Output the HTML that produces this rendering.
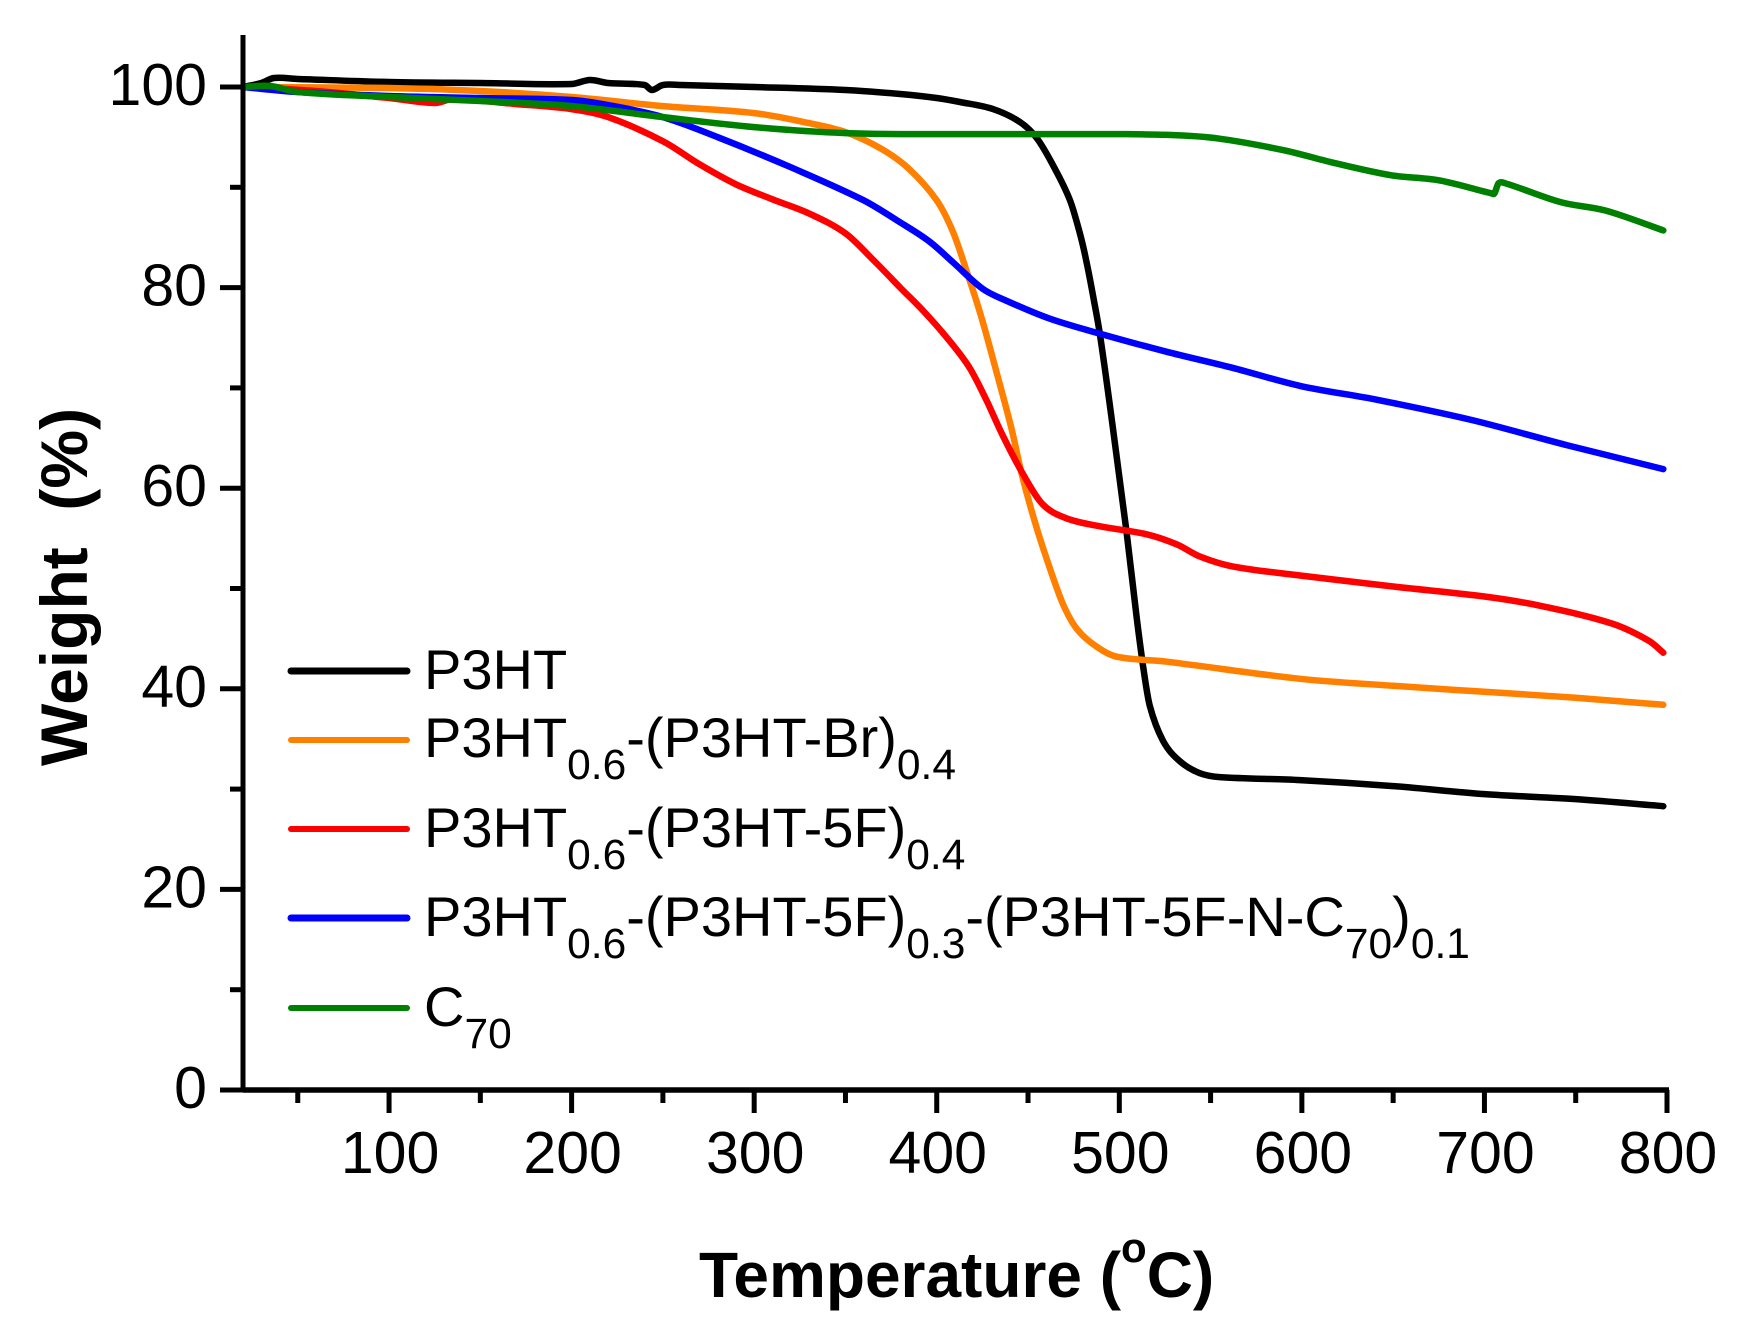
<!DOCTYPE html>
<html lang="en">
<head>
<meta charset="utf-8">
<title>Weight vs Temperature</title>
<style>
html,body{margin:0;padding:0;background:#fff;}
svg{display:block;}
text{font-family:"Liberation Sans",Arial,sans-serif;fill:#000;}
</style>
</head>
<body>
<svg id="chart" xmlns="http://www.w3.org/2000/svg" width="1741" height="1337" viewBox="0 0 1741 1337">
  <rect x="0" y="0" width="1741" height="1337" fill="#fff"/>
  <g id="series"></g>
  <g id="axes"></g>
  <text x="699" y="1297" font-size="64" font-weight="700">Temperature (<tspan font-size="42" dy="-35">o</tspan><tspan dy="35">C)</tspan></text>
  <text transform="translate(87,766) rotate(-90)" font-size="66" font-weight="700" xml:space="preserve">Weight  (%)</text>
  <g>
    <line x1="291" x2="407" y1="671" y2="671" stroke="#000" stroke-width="7" stroke-linecap="round"/>
    <text x="424" y="689" font-size="56">P3HT</text>
    <line x1="291" x2="407" y1="740" y2="740" stroke="#ff8000" stroke-width="6" stroke-linecap="round"/>
    <text x="424" y="757" font-size="56">P3HT<tspan font-size="42.5" dy="22">0.6</tspan><tspan dy="-22">-(P3HT-Br)</tspan><tspan font-size="42.5" dy="22">0.4</tspan></text>
    <line x1="291" x2="407" y1="829" y2="829" stroke="#ff0000" stroke-width="6" stroke-linecap="round"/>
    <text x="424" y="847" font-size="56">P3HT<tspan font-size="42.5" dy="22">0.6</tspan><tspan dy="-22">-(P3HT-5F)</tspan><tspan font-size="42.5" dy="22">0.4</tspan></text>
    <line x1="291" x2="407" y1="918" y2="918" stroke="#0000ff" stroke-width="7" stroke-linecap="round"/>
    <text x="424" y="936" font-size="56">P3HT<tspan font-size="42.5" dy="22">0.6</tspan><tspan dy="-22">-(P3HT-5F)</tspan><tspan font-size="42.5" dy="22">0.3</tspan><tspan dy="-22">-(P3HT-5F-N-C</tspan><tspan font-size="42.5" dy="22">70</tspan><tspan dy="-22">)</tspan><tspan font-size="42.5" dy="22">0.1</tspan></text>
    <line x1="291" x2="407" y1="1008" y2="1008" stroke="#008000" stroke-width="6" stroke-linecap="round"/>
    <text x="424" y="1026" font-size="56">C<tspan font-size="42.5" dy="22">70</tspan></text>
  </g>
</svg>
<script>
const xMajorTicks = [100, 200, 300, 400, 500, 600, 700, 800];
const xMinorTicks = [50, 150, 250, 350, 450, 550, 650, 750];
const yMajorTicks = [0, 20, 40, 60, 80, 100];
const yMinorTicks = [10, 30, 50, 70, 90];

const p3htT = [20,30,37,50,100,150,200,210,220,240,244,250,260,300,350,380,400,412.7,430.8,445.6,454.8,463.7,473,478.4,482,485.8,489.5,496.5,504,509.6,513,516.7,524,533,544,555,599,650,700,750,798];
const p3htW = [100,100.4,100.9,100.8,100.5,100.4,100.3,100.7,100.4,100.2,99.7,100.2,100.2,100,99.7,99.3,98.9,98.5,97.8,96.5,94.9,92.2,88.7,85.4,82.6,79,75.2,66,55.6,47,42.3,38.3,34.8,32.8,31.6,31.2,30.9,30.3,29.5,29,28.3];

const brT = [20,100,150,200,250,300,330,350,370,385,400,409,417,424.7,433,441,447,454.8,462,469,476.6,487.6,498.6,526,599,650,700,750,798];
const brW = [100,99.9,99.6,99,98.1,97.4,96.4,95.5,93.8,91.8,88.7,85.5,81.3,76.9,71.4,65.9,61.1,56,52,48.5,46,44.2,43.2,42.7,41,40.3,39.7,39.1,38.4];

const f5T = [20,60,100,125,135,170,200,220,250,270,290,310,330,350,365,380,392.5,405.6,418,427.4,436,447,458,471,489.5,515,531.5,544,562,599,650,700,730,770,790,798];
const f5W = [100,99.6,98.9,98.4,98.8,98.3,97.8,97,94.6,92.3,90.3,88.8,87.4,85.4,82.8,80,77.7,75,72,68.7,65.3,61.5,58.4,57,56.2,55.4,54.4,53.2,52.2,51.3,50.2,49.2,48.3,46.5,44.8,43.6];

const c70BlendT = [20,50,100,150,200,220,250,280,320,360,380,396,409,425,438,462,489.5,526,562,599,641.6,693,745,798];
const c70BlendW = [100,99.5,99.1,98.9,98.7,98.2,97,95,92,88.7,86.5,84.6,82.5,79.9,78.7,76.9,75.4,73.6,72,70.2,68.8,66.8,64.3,61.9];

const c70T = [20,35,50,100,150,200,250,300,350,400,450,500,530,553,590,616,649,675,703.8,705.5,707.7,711.5,742,766,798];
const c70W = [100,100.1,99.5,99,98.6,98.1,97,96,95.4,95.3,95.3,95.3,95.2,94.9,93.7,92.5,91.2,90.7,89.4,89.4,90.4,90.4,88.5,87.7,85.7];

const seriesNames = ['line-p3ht', 'line-p3ht-br', 'line-p3ht-5f', 'line-p3ht-5f-c70', 'line-c70'];
const seriesColors = ['#000000', '#ff8000', '#ff0000', '#0000ff', '#008000'];
const seriesT = [p3htT, brT, f5T, c70BlendT, c70T];
const seriesW = [p3htW, brW, f5W, c70BlendW, c70W];

function xScale(t) { return 243 + (t - 20) * (1667 - 243) / 780; }
function yScale(w) { return 1090 - w * 10.03; }

const NS = 'http://www.w3.org/2000/svg';
const seriesGroup = document.getElementById('series');
const axesGroup = document.getElementById('axes');

function makeLine(x1, y1, x2, y2, width) {
  const l = document.createElementNS(NS, 'line');
  l.setAttribute('x1', x1);
  l.setAttribute('y1', y1);
  l.setAttribute('x2', x2);
  l.setAttribute('y2', y2);
  l.setAttribute('stroke', '#000');
  l.setAttribute('stroke-width', width);
  return l;
}

function smoothPath(ts, ws) {
  const px = ts.map(xScale);
  const py = ws.map(yScale);
  let d = 'M' + px[0].toFixed(1) + ' ' + py[0].toFixed(1);
  for (let i = 0; i < px.length - 1; i++) {
    const a = Math.max(i - 1, 0);
    const b = Math.min(i + 2, px.length - 1);
    const dt = px[i + 1] - px[i];
    const tan1 = (py[i + 1] - py[a]) / (px[i + 1] - px[a]);
    const tan2 = (py[b] - py[i]) / (px[b] - px[i]);
    const c1x = px[i] + dt / 3;
    const c1y = py[i] + tan1 * dt / 3;
    const c2x = px[i + 1] - dt / 3;
    const c2y = py[i + 1] - tan2 * dt / 3;
    d += 'C' + c1x.toFixed(1) + ' ' + c1y.toFixed(1) + ' ' + c2x.toFixed(1) + ' ' + c2y.toFixed(1) + ' ' + px[i + 1].toFixed(1) + ' ' + py[i + 1].toFixed(1);
  }
  return d;
}

seriesNames.forEach(function (name, i) {
  const p = document.createElementNS(NS, 'path');
  
  
  p.setAttribute('d', smoothPath(seriesT[i], seriesW[i]));
  p.setAttribute('fill', 'none');
  p.setAttribute('stroke', seriesColors[i]);
  p.setAttribute('stroke-width', '6.5');
  p.setAttribute('stroke-linejoin', 'round');
  p.setAttribute('stroke-linecap', 'round');
  seriesGroup.appendChild(p);
});

const yAxisLine = makeLine(243, 35, 243, 1092, 5);


axesGroup.appendChild(yAxisLine);

const xAxisLine = makeLine(243, 1090, 1669, 1090, 5.5);


axesGroup.appendChild(xAxisLine);

xMajorTicks.forEach(function (v) {
  const t = makeLine(xScale(v), 1090, xScale(v), 1113, 5);
  
  
  axesGroup.appendChild(t);
  const lab = document.createElementNS(NS, 'text');
  
  
  lab.setAttribute('x', xScale(v) + 1);
  lab.setAttribute('y', 1173);
  lab.setAttribute('font-size', '59');
  lab.setAttribute('text-anchor', 'middle');
  lab.textContent = v;
  axesGroup.appendChild(lab);
});

xMinorTicks.forEach(function (v) {
  const t = makeLine(xScale(v), 1090, xScale(v), 1103, 5);
  
  
  axesGroup.appendChild(t);
});

yMajorTicks.forEach(function (v) {
  const t = makeLine(220, yScale(v), 243, yScale(v), 5);
  
  
  axesGroup.appendChild(t);
  const lab = document.createElementNS(NS, 'text');
  
  
  lab.setAttribute('x', 207);
  lab.setAttribute('y', yScale(v) + 18);
  lab.setAttribute('font-size', '59');
  lab.setAttribute('text-anchor', 'end');
  lab.textContent = v;
  axesGroup.appendChild(lab);
});

yMinorTicks.forEach(function (v) {
  const t = makeLine(230, yScale(v), 243, yScale(v), 5);
  
  
  axesGroup.appendChild(t);
});
</script>
</body>
</html>
